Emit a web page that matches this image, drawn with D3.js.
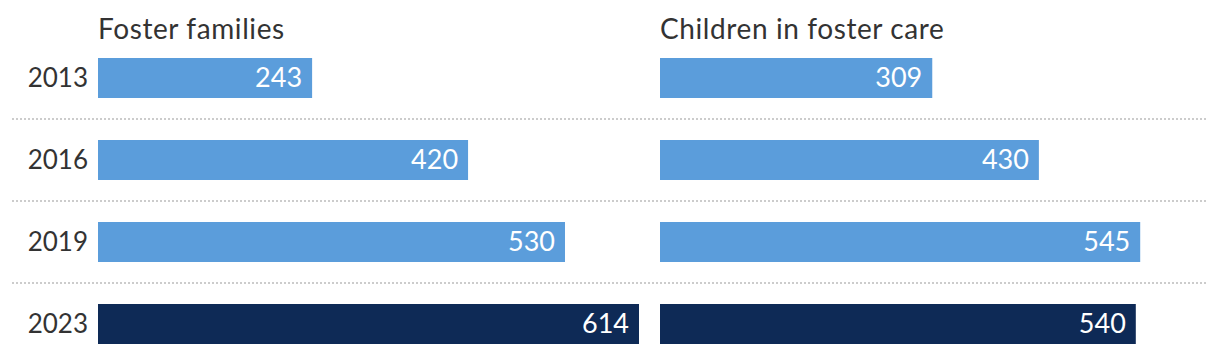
<!DOCTYPE html>
<html>
<head>
  <meta charset="UTF-8">
  <title>Foster families and children in foster care</title>
  <script src="https://d3js.org/d3.v7.min.js"></script>
  <style>
    body {
      margin: 0;
      padding: 0;
      background: #fff;
      font-family: Lato, sans-serif;
    }
    .panel-title {
      fill: #333;
      font-size: 28px;
      letter-spacing: 0.6px;
    }
    .year-label {
      fill: #333;
      font-size: 26px;
    }
    .value-label {
      fill: #fff;
      font-size: 27px;
    }
    .sep line {
      stroke: #ccc;
      stroke-width: 2;
      stroke-dasharray: 2 2;
    }
  </style>
</head>
<body>
  <div id="chart"></div>

  <script>
    // data
    const years = ["2013", "2016", "2019", "2023"];
    const fosterFamilies = [243, 420, 530, 614];
    const childrenInCare = [309, 430, 545, 540];
    const panelTitles = ["Foster families", "Children in foster care"];

    const width = 1220;
    const height = 354;
    const panelX = [98, 660];
    const barColor = "#5b9ddb";
    const lastColor = "#0e2a56";

    const svg = d3.select("#chart").append("svg")
      .attr("width", width)
      .attr("height", height);

    // one scale for both panels
    const x = d3.scaleLinear()
      .domain([0, 614])
      .range([0, 541]);

    // bars 40px high, 82px apart
    const y = d3.scaleBand()
      .domain(years)
      .range([58, 344])
      .paddingInner(42 / 82)
      .paddingOuter(0);

    // dashed separators between rows
    const sep = svg.append("g").attr("class", "sep");
    years.slice(1).forEach(yr => {
      const yy = y(yr) - (y.step() - y.bandwidth()) / 2;
      sep.append("line")
        .attr("x1", 12)
        .attr("x2", 1208)
        .attr("y1", Math.round(yy))
        .attr("y2", Math.round(yy));
    });

    // year labels
    svg.selectAll(".year-label")
      .data(years)
      .enter()
      .append("text")
      .attr("class", "year-label")
      .attr("x", 88)
      .attr("y", d => y(d) + y.bandwidth() / 2)
      .attr("dy", "0.35em")
      .attr("text-anchor", "end")
      .text(d => d);

    [fosterFamilies, childrenInCare].forEach((values, i) => {
      const g = svg.append("g")
        .attr("transform", `translate(${panelX[i]},0)`);

      g.append("text")
        .attr("class", "panel-title")
        .attr("x", 0)
        .attr("y", 39)
        .text(panelTitles[i]);

      const rows = years.map((yr, j) => ({ year: yr, value: values[j], last: j === years.length - 1 }));

      g.selectAll("rect")
        .data(rows)
        .enter()
        .append("rect")
        .attr("x", 0)
        .attr("y", d => y(d.year))
        .attr("width", d => x(d.value))
        .attr("height", y.bandwidth())
        .attr("fill", d => d.last ? lastColor : barColor);

      g.selectAll(".value-label")
        .data(rows)
        .enter()
        .append("text")
        .attr("class", "value-label")
        .attr("x", d => x(d.value) - 10)
        .attr("y", d => y(d.year) + y.bandwidth() / 2)
        .attr("dy", "0.35em")
        .attr("text-anchor", "end")
        .text(d => d.value);
    });
  </script>
</body>
</html>
